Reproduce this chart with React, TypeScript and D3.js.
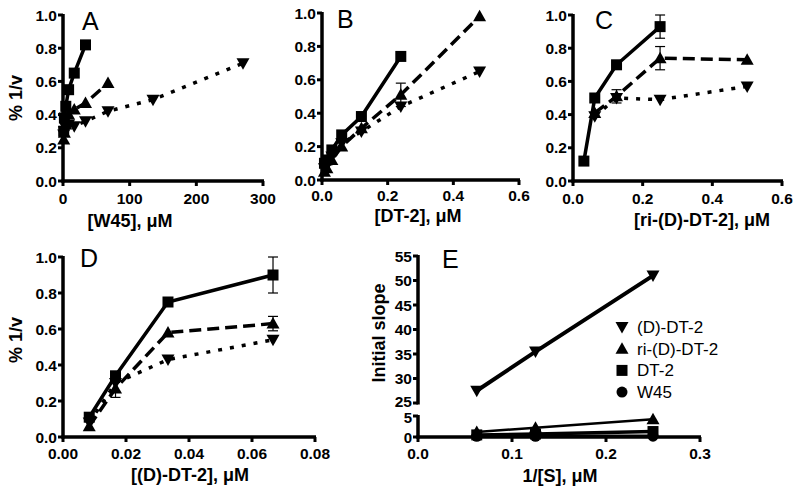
import React from 'react';
import * as d3 from 'd3';

// panel A : [W45] (uM)
const aSqX = [1.05, 2.1, 4.2, 8.4, 16.9, 33.75];
const aSqY = [0.30, 0.38, 0.45, 0.55, 0.65, 0.82];
const aUpX = [1.05, 2.1, 4.2, 8.4, 16.9, 33.75, 67.5];
const aUpY = [0.25, 0.29, 0.34, 0.40, 0.43, 0.47, 0.59];
const aDnX = [1.05, 2.1, 4.2, 8.4, 16.9, 33.75, 67.5, 135, 270];
const aDnY = [0.28, 0.30, 0.32, 0.34, 0.33, 0.36, 0.42, 0.49, 0.71];

// panel B : [DT-2]
const bX = [0.0075, 0.015, 0.03, 0.06, 0.12, 0.24, 0.48];
const bSqY = [0.10, 0.12, 0.18, 0.27, 0.38, 0.74];
const bUpY = [0.05, 0.07, 0.12, 0.20, 0.31, 0.51, 0.98];
const bUpErr = [0, 0, 0, 0, 0, 0.07, 0];
const bDnY = [0.07, 0.09, 0.14, 0.22, 0.29, 0.44, 0.65];

// panel C : [ri-(D)-DT-2]
const cSqX = [0.03125, 0.0625, 0.125, 0.25];
const cSqY = [0.12, 0.50, 0.70, 0.93];
const cSqErr = [0, 0, 0, 0.07];
const cX = [0.0625, 0.125, 0.25, 0.5];
const cUpY = [0.41, 0.51, 0.74, 0.73];
const cUpErr = [0, 0.04, 0.07, 0];
const cDnY = [0.39, 0.50, 0.49, 0.57];

// panel D : [(D)-DT-2]
const dX = [0.00833, 0.01667, 0.03333, 0.06667];
const dSqY = [0.11, 0.34, 0.75, 0.90];
const dSqErr = [0, 0, 0, 0.1];
const dUpY = [0.06, 0.27, 0.58, 0.63];
const dUpErr = [0, 0.05, 0, 0.04];
const dDnY = [0.08, 0.30, 0.43, 0.54];

// panel E : initial slope vs 1/[S]
const eX = [0.0625, 0.125, 0.25];
const eDDT2 = [27.5, 35.5, 51];
const eRiDDT2 = [1.2, 2.2, 4.2];
const eDT2 = [0.5, 0.7, 1.3];
const eW45 = [0.15, 0.15, 0.2];
const legendNames = ['(D)-DT-2', 'ri-(D)-DT-2', 'DT-2', 'W45'];

const fracTicks = [0, 0.2, 0.4, 0.6, 0.8, 1.0];
const aXTicks = [0, 100, 200, 300];
const bcXTicks = [0, 0.2, 0.4, 0.6];
const dXTicks = [0, 0.02, 0.04, 0.06, 0.08];
const eXTicks = [0, 0.1, 0.2, 0.3];
const eUpperTicks = [25, 30, 35, 40, 45, 50, 55];
const eLowerTicks = [0, 5];

const FONT = '"Liberation Sans", Arial, sans-serif';

const Marker = ({ shape, x, y }) => {
  if (shape === 'square') return <rect x={x - 5.5} y={y - 5.5} width={11} height={11} fill="#000" />;
  if (shape === 'up') return <path d={`M${x},${y - 6.5}L${x + 6.5},${y + 5}L${x - 6.5},${y + 5}Z`} fill="#000" />;
  if (shape === 'down') return <path d={`M${x},${y + 6.5}L${x + 6.5},${y - 5}L${x - 6.5},${y - 5}Z`} fill="#000" />;
  return <circle cx={x} cy={y} r={5.5} fill="#000" />;
};

const dashFor = { square: null, up: '12,6', down: '4,8' };

const Series = ({ xs, ys, errs, shape, sx, sy, dash, width = 3.5 }) => {
  const pts = ys.map((v, i) => [sx(xs[i]), sy(v)]);
  const line = d3.line();
  return (
    <g>
      <path d={line(pts)} fill="none" stroke="#000" strokeWidth={width}
        strokeDasharray={dash === undefined ? dashFor[shape] : dash} />
      {errs && ys.map((v, i) => errs[i] > 0 ? (
        <g key={'e' + i} stroke="#000" strokeWidth={1.2}>
          <line x1={sx(xs[i])} x2={sx(xs[i])} y1={sy(v - errs[i])} y2={sy(v + errs[i])} />
          <line x1={sx(xs[i]) - 5} x2={sx(xs[i]) + 5} y1={sy(v - errs[i])} y2={sy(v - errs[i])} />
          <line x1={sx(xs[i]) - 5} x2={sx(xs[i]) + 5} y1={sy(v + errs[i])} y2={sy(v + errs[i])} />
        </g>
      ) : null)}
      {pts.map((p, i) => <Marker key={i} shape={shape} x={p[0]} y={p[1]} />)}
    </g>
  );
};

// shift: per-tick label nudge (used on the broken axis of E)
const YAxis = ({ sy, ticks, x, fmt, shift = {}, fs = 15.5 }) => (
  <g>
    <line x1={x} x2={x} y1={sy(ticks[0]) + 1.5} y2={sy(ticks[ticks.length - 1]) - 1} stroke="#000" strokeWidth={3.5} />
    {ticks.map(t => (
      <g key={t}>
        <line x1={x - 5} x2={x} y1={sy(t)} y2={sy(t)} stroke="#000" strokeWidth={3} />
        <text x={x - 6} y={sy(t) + 5.5 + (shift[t] || 0)} textAnchor="end" fontSize={fs} fontWeight="bold" fontFamily={FONT}>{fmt(t)}</text>
      </g>
    ))}
  </g>
);

const XAxis = ({ sx, ticks, y, fmt, dy = 23 }) => (
  <g>
    <line x1={sx(ticks[0]) - 1.5} x2={sx(ticks[ticks.length - 1]) + 1} y1={y} y2={y} stroke="#000" strokeWidth={3.5} />
    {ticks.map(t => (
      <g key={t}>
        <line x1={sx(t)} x2={sx(t)} y1={y} y2={y + 5} stroke="#000" strokeWidth={3} />
        <text x={sx(t)} y={y + dy} textAnchor="middle" fontSize={15.5} fontWeight="bold" fontFamily={FONT}>{fmt(t)}</text>
      </g>
    ))}
  </g>
);

const Letter = ({ x, y, t }) => (
  <text x={x} y={y} fontSize={25} fontFamily={FONT}>{t}</text>
);

const XTitle = ({ x, y, t }) => (
  <text x={x} y={y} textAnchor="middle" fontSize={18} fontWeight="bold" fontFamily={FONT}>{t}</text>
);

const YTitle = ({ x, y, t }) => (
  <text transform={`translate(${x},${y}) rotate(-90)`} textAnchor="middle" fontSize={18} fontWeight="bold" fontFamily={FONT}>{t}</text>
);

const f1 = d3.format('.1f');
const f2 = d3.format('.2f');
const f0 = d3.format('d');

export default function App() {
  // A
  const axA = d3.scaleLinear().domain([0, 300]).range([63, 263]);
  const ayA = d3.scaleLinear().domain([0, 1]).range([181, 15]);
  // B
  const axB = d3.scaleLinear().domain([0, 0.6]).range([322, 519]);
  const ayB = d3.scaleLinear().domain([0, 1]).range([180, 13]);
  // C
  const axC = d3.scaleLinear().domain([0, 0.6]).range([573, 782]);
  const ayC = d3.scaleLinear().domain([0, 1]).range([181, 15]);
  // D
  const axD = d3.scaleLinear().domain([0, 0.08]).range([63, 315]);
  const ayD = d3.scaleLinear().domain([0, 1]).range([437, 257]);
  // E (broken y axis)
  const axE = d3.scaleLinear().domain([0, 0.3]).range([418, 700]);
  const ayEup = d3.scaleLinear().domain([25, 55]).range([403, 256]);
  const ayElo = d3.scaleLinear().domain([0, 5]).range([437, 416]);

  return (
    <svg width={800} height={495} style={{ position: 'absolute', left: 0, top: 0, background: '#fff' }}>
      {/* Panel A */}
      <Series xs={aDnX} ys={aDnY} shape="down" sx={axA} sy={ayA} />
      <Series xs={aUpX} ys={aUpY} shape="up" sx={axA} sy={ayA} />
      <Series xs={aSqX} ys={aSqY} shape="square" sx={axA} sy={ayA} />
      <YAxis sy={ayA} ticks={fracTicks} x={63} fmt={f1} />
      <XAxis sx={axA} ticks={aXTicks} y={181} fmt={f0} />
      <Letter x={82} y={30} t="A" />
      <XTitle x={130} y={227} t="[W45], μM" />
      <YTitle x={22} y={98} t="% 1/v" />

      {/* Panel B */}
      <Series xs={bX} ys={bDnY} shape="down" sx={axB} sy={ayB} />
      <Series xs={bX} ys={bUpY} errs={bUpErr} shape="up" sx={axB} sy={ayB} />
      <Series xs={bX} ys={bSqY} shape="square" sx={axB} sy={ayB} />
      <YAxis sy={ayB} ticks={fracTicks} x={322} fmt={f1} />
      <XAxis sx={axB} ticks={bcXTicks} y={180} fmt={f1} dy={21} />
      <Letter x={337} y={28} t="B" />
      <XTitle x={418} y={222} t="[DT-2], μM" />

      {/* Panel C */}
      <Series xs={cX} ys={cDnY} shape="down" sx={axC} sy={ayC} />
      <Series xs={cX} ys={cUpY} errs={cUpErr} shape="up" sx={axC} sy={ayC} />
      <Series xs={cSqX} ys={cSqY} errs={cSqErr} shape="square" sx={axC} sy={ayC} />
      <YAxis sy={ayC} ticks={fracTicks} x={573} fmt={f1} />
      <XAxis sx={axC} ticks={bcXTicks} y={181} fmt={f1} />
      <Letter x={595} y={29} t="C" />
      <XTitle x={702} y={226} t="[ri-(D)-DT-2], μM" />

      {/* Panel D */}
      <Series xs={dX} ys={dDnY} shape="down" sx={axD} sy={ayD} />
      <Series xs={dX} ys={dUpY} errs={dUpErr} shape="up" sx={axD} sy={ayD} />
      <Series xs={dX} ys={dSqY} errs={dSqErr} shape="square" sx={axD} sy={ayD} />
      <YAxis sy={ayD} ticks={fracTicks} x={63} fmt={f1} />
      <XAxis sx={axD} ticks={dXTicks} y={437} fmt={f2} dy={22} />
      <Letter x={80} y={267} t="D" />
      <XTitle x={190} y={481} t="[(D)-DT-2], μM" />
      <YTitle x={22} y={340} t="% 1/v" />

      {/* Panel E */}
      <Series xs={eX} ys={eDDT2} shape="down" sx={axE} sy={ayEup} dash={null} width={4} />
      <Series xs={eX} ys={eRiDDT2} shape="up" sx={axE} sy={ayElo} dash={null} width={2.5} />
      <Series xs={eX} ys={eDT2} shape="square" sx={axE} sy={ayElo} dash={null} width={3.5} />
      <Series xs={eX} ys={eW45} shape="circle" sx={axE} sy={ayElo} dash={null} width={3.5} />
      <YAxis sy={ayEup} ticks={eUpperTicks} x={418} fmt={f0} shift={{ 25: -2 }} />
      <YAxis sy={ayElo} ticks={eLowerTicks} x={418} fmt={f0} shift={{ 5: 1.5 }} fs={15} />
      <XAxis sx={axE} ticks={eXTicks} y={437} fmt={f1} dy={22} />
      <Letter x={442} y={268} t="E" />
      <XTitle x={560} y={482} t="1/[S], μM" />
      <YTitle x={385} y={333} t="Initial slope" />
      {legendNames.map((n, i) => (
        <g key={n}>
          <Marker shape={['down', 'up', 'square', 'circle'][i]} x={622} y={327 + i * 21.7} />
          <text x={637} y={327 + i * 21.7 + 6} fontSize={17} fontFamily={FONT}>{n}</text>
        </g>
      ))}
    </svg>
  );
}
